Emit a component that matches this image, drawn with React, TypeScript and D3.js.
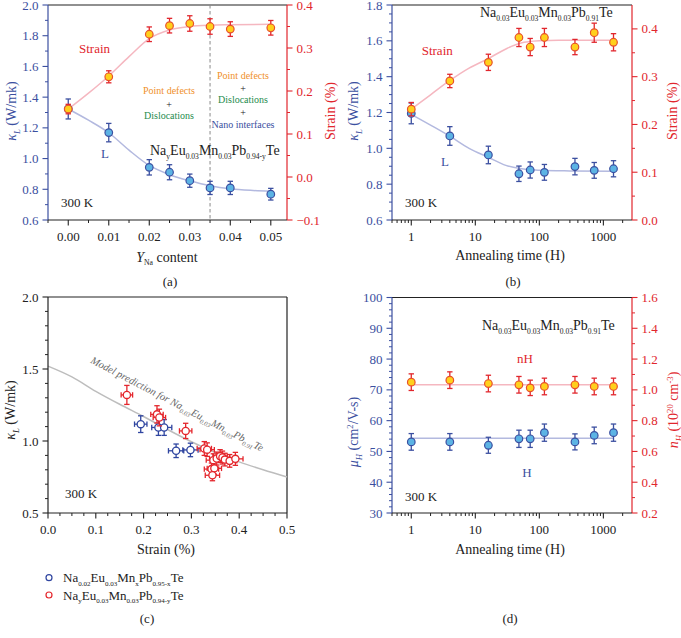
import { useEffect, useRef } from "react";
import * as d3 from "d3";

// ---------- data ----------
// (a) Na content series
const naContent = [0, 0.01, 0.02, 0.025, 0.03, 0.035, 0.04, 0.05];
const strainA = [0.158, 0.233, 0.332, 0.352, 0.357, 0.35, 0.344, 0.347];
const strainErrA = [0.011, 0.014, 0.017, 0.017, 0.018, 0.018, 0.017, 0.017];
const kappaA = [1.323, 1.169, 0.943, 0.911, 0.856, 0.809, 0.809, 0.768];
const kappaErrA = [0.065, 0.06, 0.05, 0.049, 0.043, 0.043, 0.043, 0.038];
const strainFitA: [number, number][] = [
  [0, 0.158], [0.005, 0.195], [0.01, 0.235], [0.015, 0.28], [0.02, 0.322],
  [0.025, 0.342], [0.03, 0.35], [0.035, 0.353], [0.04, 0.354], [0.05, 0.355],
];
const kappaFitA: [number, number][] = [
  [0, 1.323], [0.005, 1.25], [0.01, 1.168], [0.015, 1.055], [0.02, 0.955],
  [0.025, 0.895], [0.03, 0.855], [0.035, 0.823], [0.04, 0.803], [0.045, 0.793], [0.05, 0.788],
];

// (b) annealing series
const annealHours = [1, 4, 16, 48, 72, 120, 360, 720, 1440];
const strainB = [0.232, 0.291, 0.33, 0.382, 0.362, 0.382, 0.362, 0.392, 0.372];
const strainErrB = [0.014, 0.014, 0.017, 0.019, 0.018, 0.019, 0.016, 0.02, 0.018];
const kappaB = [1.195, 1.069, 0.963, 0.858, 0.879, 0.866, 0.898, 0.877, 0.886];
const kappaErrB = [0.058, 0.052, 0.049, 0.043, 0.045, 0.044, 0.046, 0.044, 0.045];
const strainFitB: [number, number][] = [
  [1, 0.232], [2, 0.262], [4, 0.292], [8, 0.318], [16, 0.338], [30, 0.358],
  [50, 0.37], [100, 0.375], [200, 0.376], [1440, 0.376],
];
const kappaFitB: [number, number][] = [
  [1, 1.19], [2, 1.13], [4, 1.068], [8, 1.0], [16, 0.95], [30, 0.905],
  [50, 0.887], [100, 0.878], [300, 0.874], [1440, 0.872],
];

// (c) strain vs kappa
const redStrain = [0.165, 0.228, 0.233, 0.288, 0.327, 0.333, 0.346, 0.353, 0.36, 0.365, 0.37, 0.38, 0.392, 0.342, 0.348, 0.344];
const redKappa = [1.32, 1.185, 1.163, 1.07, 0.948, 0.94, 0.867, 0.878, 0.895, 0.885, 0.871, 0.862, 0.876, 0.805, 0.81, 0.762];
const redStrainErr = [0.012, 0.013, 0.013, 0.013, 0.015, 0.015, 0.015, 0.015, 0.015, 0.015, 0.015, 0.015, 0.016, 0.015, 0.015, 0.015];
const redKappaErr = [0.066, 0.06, 0.058, 0.053, 0.048, 0.047, 0.044, 0.045, 0.045, 0.045, 0.044, 0.044, 0.045, 0.042, 0.041, 0.038];
const blueStrain = [0.194, 0.231, 0.243, 0.268, 0.298];
const blueKappa = [1.117, 1.094, 1.094, 0.932, 0.938];
const blueStrainErr = [0.013, 0.014, 0.016, 0.016, 0.016];
const blueKappaErr = [0.058, 0.055, 0.055, 0.047, 0.047];
const modelFit: [number, number][] = [
  [0, 1.52], [0.05, 1.445], [0.1, 1.345], [0.15, 1.255], [0.2, 1.17], [0.25, 1.08],
  [0.3, 0.995], [0.35, 0.92], [0.4, 0.855], [0.45, 0.8], [0.5, 0.75],
];

// (d) Hall data
const nH = [1.05, 1.063, 1.041, 1.033, 1.013, 1.022, 1.033, 1.022, 1.022];
const nHErr = [0.054, 0.054, 0.054, 0.054, 0.05, 0.054, 0.054, 0.054, 0.054];
const muH = [53.1, 53.1, 52.0, 54.1, 54.1, 56.1, 53.1, 55.2, 56.1];
const muHErr = [2.7, 2.7, 2.6, 2.8, 2.8, 2.8, 2.6, 2.7, 2.8];
const nHFit: [number, number][] = [[1, 1.033], [1440, 1.033]];
const muHFit: [number, number][] = [[1, 54.3], [1440, 54.3]];

// ticks
const ticksAx = [0, 0.01, 0.02, 0.03, 0.04, 0.05];
const ticksAl = [0.6, 0.8, 1.0, 1.2, 1.4, 1.6, 1.8, 2.0];
const ticksAr = [-0.1, 0.0, 0.1, 0.2, 0.3, 0.4];
const ticksLog = [1, 10, 100, 1000];
const ticksBl = [0.6, 0.8, 1.0, 1.2, 1.4, 1.6, 1.8];
const ticksBr = [0.0, 0.1, 0.2, 0.3, 0.4];
const ticksCx = [0, 0.1, 0.2, 0.3, 0.4, 0.5];
const ticksCy = [0.5, 1.0, 1.5, 2.0];
const ticksDl = [30, 40, 50, 60, 70, 80, 90, 100];
const ticksDr = [0.2, 0.4, 0.6, 0.8, 1.0, 1.2, 1.4, 1.6];

// ---------- style ----------
const FONT = "'Liberation Serif', 'Times New Roman', serif";
const BLUE = "#3b4fa0";
const RED = "#e1262d";
const PT_BLUE = "#5cb3e4";
const PT_YEL = "#ffd01c";
const FIT_RED = "#f5b7c0";
const FIT_BLUE = "#b3b9df";
const DARK = "#222";

type Seg = { t: string; sub?: boolean; sup?: boolean; it?: boolean };

function rich(sel: any, segs: Seg[], size: number, subScale = 0.62) {
  let shift = 0;
  segs.forEach((s) => {
    const target = s.sub ? size * 0.28 : s.sup ? -size * 0.38 : 0;
    const ts = sel.append("tspan").text(s.t).attr("dy", target - shift);
    if (s.sub || s.sup) ts.attr("font-size", size * subScale);
    if (s.it) ts.attr("font-style", "italic");
    shift = target;
  });
}

// "Na_{0.03}Eu" -> segments
function formula(s: string): Seg[] {
  const out: Seg[] = [];
  const re = /_\{([^}]*)\}|\^\{([^}]*)\}|([^_^]+)/g;
  let m;
  while ((m = re.exec(s))) {
    if (m[1] !== undefined) out.push({ t: m[1], sub: true });
    else if (m[2] !== undefined) out.push({ t: m[2], sup: true });
    else out.push({ t: m[3] });
  }
  return out;
}

function text(g: any, x: number, y: number, segs: Seg[] | string, size: number, color: string, anchor = "start", extra?: (t: any) => void, subScale = 0.62) {
  const t = g.append("text").attr("x", x).attr("y", y).attr("font-size", size)
    .attr("fill", color).attr("text-anchor", anchor).attr("font-family", FONT);
  if (typeof segs === "string") t.text(segs);
  else rich(t, segs, size, subScale);
  if (extra) extra(t);
  return t;
}

function vAxis(g: any, scale: any, x: number, side: "left" | "right", major: number[], minor: number[], color: string, fmt: (d: number) => string, labelColor: string) {
  const dir = side === "left" ? -1 : 1;
  const a = g.append("g");
  a.append("line").attr("x1", x).attr("x2", x).attr("y1", scale.range()[0]).attr("y2", scale.range()[1])
    .attr("stroke", color).attr("stroke-width", 1.2);
  minor.forEach((v) => {
    a.append("line").attr("x1", x).attr("x2", x + dir * 3).attr("y1", scale(v)).attr("y2", scale(v))
      .attr("stroke", color).attr("stroke-width", 1);
  });
  major.forEach((v) => {
    a.append("line").attr("x1", x).attr("x2", x + dir * 5.5).attr("y1", scale(v)).attr("y2", scale(v))
      .attr("stroke", color).attr("stroke-width", 1.1);
    a.append("text").attr("x", x + dir * 9.5).attr("y", scale(v) + 4.5)
      .attr("text-anchor", side === "left" ? "end" : "start").attr("font-size", 13)
      .attr("font-family", FONT).attr("fill", labelColor).text(fmt(v));
  });
}

function hAxis(g: any, scale: any, y: number, major: number[], minor: number[], fmt: (d: number) => string) {
  const a = g.append("g");
  const [x0, x1] = scale.range();
  a.append("line").attr("x1", x0).attr("x2", x1).attr("y1", y).attr("y2", y).attr("stroke", DARK).attr("stroke-width", 1.2);
  minor.forEach((v) => {
    a.append("line").attr("x1", scale(v)).attr("x2", scale(v)).attr("y1", y).attr("y2", y + 3)
      .attr("stroke", DARK).attr("stroke-width", 1);
  });
  major.forEach((v) => {
    a.append("line").attr("x1", scale(v)).attr("x2", scale(v)).attr("y1", y).attr("y2", y + 5.5)
      .attr("stroke", DARK).attr("stroke-width", 1.1);
    a.append("text").attr("x", scale(v)).attr("y", y + 20.5).attr("text-anchor", "middle").attr("font-size", 13)
      .attr("font-family", FONT).attr("fill", DARK).text(fmt(v));
  });
}

function errY(g: any, x: number, y0: number, y1: number, color: string) {
  g.append("line").attr("x1", x).attr("x2", x).attr("y1", y0).attr("y2", y1).attr("stroke", color).attr("stroke-width", 1.3);
  [y0, y1].forEach((y) =>
    g.append("line").attr("x1", x - 2.7).attr("x2", x + 2.7).attr("y1", y).attr("y2", y).attr("stroke", color).attr("stroke-width", 1.3));
}
function errX(g: any, y: number, x0: number, x1: number, color: string) {
  g.append("line").attr("x1", x0).attr("x2", x1).attr("y1", y).attr("y2", y).attr("stroke", color).attr("stroke-width", 1.3);
  [x0, x1].forEach((x) =>
    g.append("line").attr("x1", x).attr("x2", x).attr("y1", y - 2.7).attr("y2", y + 2.7).attr("stroke", color).attr("stroke-width", 1.3));
}

function dots(g: any, xs: number[], ys: number[], errs: number[], sx: any, sy: any, barColor: string, fill: string, stroke: string) {
  xs.forEach((x, i) => errY(g, sx(x), sy(ys[i] - errs[i]), sy(ys[i] + errs[i]), barColor));
  xs.forEach((x, i) =>
    g.append("circle").attr("cx", sx(x)).attr("cy", sy(ys[i])).attr("r", 3.8)
      .attr("fill", fill).attr("stroke", stroke).attr("stroke-width", 1.2));
}

function fit(g: any, pts: [number, number][], sx: any, sy: any, color: string) {
  const line = d3.line<[number, number]>().x((d) => sx(d[0])).y((d) => sy(d[1])).curve(d3.curveMonotoneX);
  g.append("path").attr("d", line(pts)).attr("fill", "none").attr("stroke", color).attr("stroke-width", 1.5);
}

function frameTop(g: any, l: number, r: number, t: number) {
  g.append("line").attr("x1", l).attr("x2", r).attr("y1", t).attr("y2", t).attr("stroke", DARK).attr("stroke-width", 1.2);
}

const logMinor = (lo: number, hi: number) => {
  const out: number[] = [];
  for (let e = -1; e <= 3; e++) for (let k = 2; k <= 9; k++) {
    const v = k * Math.pow(10, e);
    if (v >= lo && v <= hi) out.push(v);
  }
  return out;
};

const kappaLabel: Seg[] = [{ t: "κ", it: true }, { t: "L", sub: true, it: true }, { t: " (W/mk)" }];

function vLabel(g: any, x: number, cy: number, segs: Seg[] | string, color: string) {
  const t = g.append("text").attr("transform", `translate(${x},${cy}) rotate(-90)`).attr("text-anchor", "middle")
    .attr("font-size", 14).attr("font-family", FONT).attr("fill", color);
  if (typeof segs === "string") t.text(segs); else rich(t, segs, 14);
}

const FS = 0.54; // subscript scale in formulas

export default function App() {
  const ref = useRef<SVGSVGElement>(null);

  useEffect(() => {
    const svg = d3.select(ref.current);
    svg.selectAll("*").remove();
    const g = svg.append("g");
    const f1 = d3.format(".1f");
    const f2 = d3.format(".2f");
    const f0 = d3.format("d");

    // ===== (a) =====
    {
      const x = d3.scaleLinear().domain([-0.005, 0.054]).range([48, 287]);
      const yl = d3.scaleLinear().domain([0.6, 2.0]).range([220, 5]);
      const yr = d3.scaleLinear().domain([-0.1, 0.4]).range([220, 5]);
      frameTop(g, 48, 287, 5);
      g.append("line").attr("x1", x(0.035)).attr("x2", x(0.035)).attr("y1", 5).attr("y2", 220)
        .attr("stroke", "#8a8a8a").attr("stroke-width", 1).attr("stroke-dasharray", "3.5,2.5");
      fit(g, kappaFitA, x, yl, FIT_BLUE);
      fit(g, strainFitA, x, yr, FIT_RED);
      dots(g, naContent, kappaA, kappaErrA, x, yl, BLUE, PT_BLUE, BLUE);
      dots(g, naContent, strainA, strainErrA, x, yr, RED, PT_YEL, "#e8502a");
      vAxis(g, yl, 48, "left", ticksAl, d3.range(0.7, 2.0, 0.2), BLUE, f1, BLUE);
      vAxis(g, yr, 287, "right", ticksAr, d3.range(-0.05, 0.4, 0.1), RED, f1, RED);
      hAxis(g, x, 220, ticksAx, [-0.005, 0.005, 0.015, 0.025, 0.035, 0.045], f2);
      vLabel(g, 16, 111, kappaLabel, BLUE);
      vLabel(g, 335, 111, "Strain (%)", RED);
      text(g, 167, 261.5, [{ t: "Y", it: true }, { t: "Na", sub: true }, { t: " content" }], 14, DARK, "middle", undefined, 0.55);
      text(g, 170, 286, "(a)", 13, DARK, "middle");
      text(g, 79, 53.3, "Strain", 13, RED);
      text(g, 105, 158.3, "L", 13, BLUE, "middle");
      text(g, 169, 94.3, "Point defects", 10, "#f0902a", "middle");
      text(g, 169, 107.5, "+", 10, DARK, "middle");
      text(g, 169, 119, "Dislocations", 10, "#1e8c4e", "middle");
      text(g, 243, 79.3, "Point defects", 10, "#f0902a", "middle");
      text(g, 243, 92, "+", 10, DARK, "middle");
      text(g, 243, 102.7, "Dislocations", 10, "#1e8c4e", "middle");
      text(g, 243, 115.5, "+", 10, DARK, "middle");
      text(g, 243, 127.7, "Nano interfaces", 10, BLUE, "middle");
      text(g, 150, 155, formula("Na_{y}Eu_{0.03}Mn_{0.03}Pb_{0.94-y}Te"), 14, DARK, "start", undefined, FS);
      text(g, 61, 206.7, "300 K", 13, DARK);
    }

    // ===== (b) =====
    {
      const x = d3.scaleLog().domain([0.5, 2800]).range([392, 632]);
      const yl = d3.scaleLinear().domain([0.6, 1.8]).range([220, 5]);
      const yr = d3.scaleLinear().domain([0, 0.45]).range([220, 5]);
      frameTop(g, 392, 632, 5);
      fit(g, kappaFitB, x, yl, FIT_BLUE);
      fit(g, strainFitB, x, yr, FIT_RED);
      dots(g, annealHours, kappaB, kappaErrB, x, yl, BLUE, PT_BLUE, BLUE);
      dots(g, annealHours, strainB, strainErrB, x, yr, RED, PT_YEL, "#e8502a");
      vAxis(g, yl, 392, "left", ticksBl, d3.range(0.65, 1.8, 0.05).filter((v) => Math.abs((v * 10) % 2) > 0.01), BLUE, f1, BLUE);
      vAxis(g, yr, 632, "right", ticksBr, d3.range(0.05, 0.45, 0.1), RED, f1, RED);
      hAxis(g, x, 220, ticksLog, logMinor(0.5, 2800), f0);
      vLabel(g, 358, 111, kappaLabel, BLUE);
      vLabel(g, 677, 111, "Strain (%)", RED);
      text(g, 510, 260, "Annealing time (H)", 14, DARK, "middle");
      text(g, 513, 286, "(b)", 13, DARK, "middle");
      text(g, 421.7, 55, "Strain", 13, RED);
      text(g, 445, 165.7, "L", 13, BLUE, "middle");
      text(g, 480, 16.7, formula("Na_{0.03}Eu_{0.03}Mn_{0.03}Pb_{0.91}Te"), 14, DARK, "start", undefined, FS);
      text(g, 405, 206.7, "300 K", 13, DARK);
    }

    // ===== (c) =====
    {
      const x = d3.scaleLinear().domain([0, 0.5]).range([48, 287]);
      const y = d3.scaleLinear().domain([0.5, 2.0]).range([513, 297]);
      frameTop(g, 48, 287, 297);
      g.append("line").attr("x1", 287).attr("x2", 287).attr("y1", 297).attr("y2", 513).attr("stroke", DARK).attr("stroke-width", 1.2);
      fit(g, modelFit, x, y, "#bdbdbd");
      const drawSet = (xs: number[], ys: number[], ex: number[], ey: number[], c: string) => {
        xs.forEach((v, i) => {
          errY(g, x(v), y(ys[i] - ey[i]), y(ys[i] + ey[i]), c);
          errX(g, y(ys[i]), x(v - ex[i]), x(v + ex[i]), c);
        });
        xs.forEach((v, i) =>
          g.append("circle").attr("cx", x(v)).attr("cy", y(ys[i])).attr("r", 3.6)
            .attr("fill", "white").attr("stroke", c).attr("stroke-width", 1.3));
      };
      drawSet(blueStrain, blueKappa, blueStrainErr, blueKappaErr, "#2f45a0");
      drawSet(redStrain, redKappa, redStrainErr, redKappaErr, "#e4262c");
      vAxis(g, y, 48, "left", ticksCy, d3.range(0.6, 2.0, 0.1).filter((v) => Math.abs(v * 2 - Math.round(v * 2)) > 0.01), DARK, f1, DARK);
      hAxis(g, x, 513, ticksCx, [0.025, 0.05, 0.075, 0.125, 0.15, 0.175, 0.225, 0.25, 0.275, 0.325, 0.35, 0.375, 0.425, 0.45, 0.475], f1);
      vLabel(g, 15, 410, kappaLabel, DARK);
      text(g, 166, 554, "Strain (%)", 14, DARK, "middle");
      text(g, 147, 623, "(c)", 13, DARK, "middle");
      text(g, 65, 497.7, "300 K", 13, DARK);
      text(g, 90, 362.5, [{ t: "Model prediction for " }, ...formula("Na_{0.03}Eu_{0.03}Mn_{0.03}Pb_{0.91}Te")], 10.5, "#666", "start",
        (t) => t.attr("transform", "rotate(27.5 90 362.5)").attr("font-style", "italic"), 0.6);
      // legend
      g.append("circle").attr("cx", 49).attr("cy", 577.7).attr("r", 3).attr("fill", "white").attr("stroke", "#2f45a0").attr("stroke-width", 1.2);
      g.append("circle").attr("cx", 49).attr("cy", 595).attr("r", 3).attr("fill", "white").attr("stroke", "#e4262c").attr("stroke-width", 1.2);
      text(g, 63, 582, formula("Na_{0.02}Eu_{0.03}Mn_{x}Pb_{0.95-x}Te"), 13, DARK, "start", undefined, FS);
      text(g, 63, 599.5, formula("Na_{y}Eu_{0.03}Mn_{0.03}Pb_{0.94-y}Te"), 13, DARK, "start", undefined, FS);
    }

    // ===== (d) =====
    {
      const x = d3.scaleLog().domain([0.5, 2800]).range([392, 632]);
      const yl = d3.scaleLinear().domain([30, 100]).range([513, 297.5]);
      const yr = d3.scaleLinear().domain([0.2, 1.6]).range([513, 297.5]);
      frameTop(g, 392, 632, 297.5);
      fit(g, muHFit, x, yl, FIT_BLUE);
      fit(g, nHFit, x, yr, FIT_RED);
      dots(g, annealHours, muH, muHErr, x, yl, BLUE, PT_BLUE, BLUE);
      dots(g, annealHours, nH, nHErr, x, yr, RED, PT_YEL, "#e8502a");
      vAxis(g, yl, 392, "left", ticksDl, d3.range(32, 100, 2).filter((v) => v % 10 !== 0), BLUE, f0, BLUE);
      vAxis(g, yr, 632, "right", ticksDr, d3.range(0.3, 1.6, 0.2), RED, f1, RED);
      hAxis(g, x, 513, ticksLog, logMinor(0.5, 2800), f0);
      vLabel(g, 358, 432, [{ t: "μ", it: true }, { t: "H", sub: true, it: true }, { t: " (cm" }, { t: "2", sup: true }, { t: "/V-s)" }], BLUE);
      vLabel(g, 678, 410, [{ t: "n", it: true }, { t: "H", sub: true, it: true }, { t: " (10" }, { t: "20", sup: true }, { t: " cm" }, { t: "-3", sup: true }, { t: ")" }], RED);
      text(g, 510, 554, "Annealing time (H)", 14, DARK, "middle");
      text(g, 510, 623, "(d)", 13, DARK, "middle");
      text(g, 517, 363.3, "nH", 13, RED);
      text(g, 527, 476.7, "H", 13, BLUE, "middle");
      text(g, 482, 330, formula("Na_{0.03}Eu_{0.03}Mn_{0.03}Pb_{0.91}Te"), 14, DARK, "start", undefined, FS);
      text(g, 405, 501, "300 K", 13, DARK);
    }
  }, []);

  return (
    <div style={{ position: "absolute", left: 0, top: 0, width: 681, height: 638, background: "white" }}>
      <svg ref={ref} width={681} height={638} style={{ display: "block" }} />
    </div>
  );
}
